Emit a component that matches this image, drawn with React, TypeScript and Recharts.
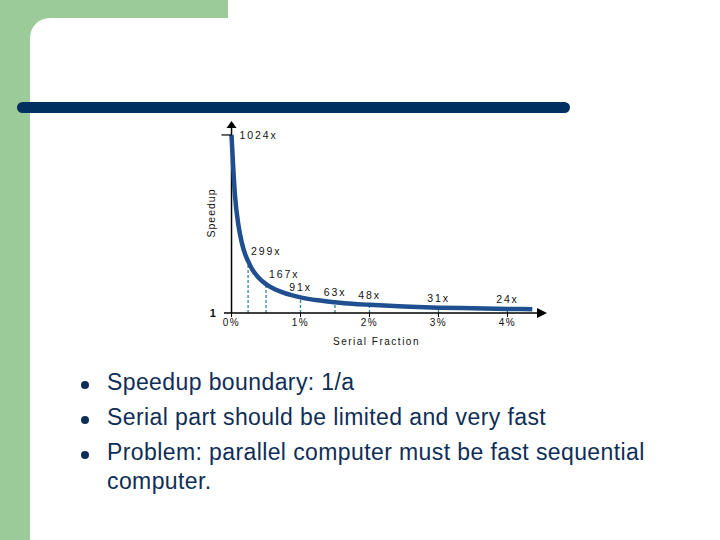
import React from 'react';
import { LineChart, Line, XAxis, YAxis, ReferenceLine, ReferenceDot } from 'recharts';

// Serial fraction (%) and speedup
const fractionPct = [0, 0.05, 0.1, 0.15, 0.2, 0.24, 0.3, 0.4, 0.5, 0.6, 0.75, 1, 1.25, 1.5, 1.75, 2, 2.5, 3, 3.5, 4, 4.36];
const speedup = [1024, 677, 506, 404, 336, 299, 252, 201, 167, 143, 118, 91, 74, 63, 54, 48, 38.5, 31.5, 28, 24.5, 22.3];

// Marked points with dashed drop lines
const markFractions = [0.24, 0.5, 1, 1.5, 2, 3, 4];
const markSpeedups = [299, 167, 91, 63, 48, 31.5, 24.5];
const markLabels = ['299x', '167x', '91x', '63x', '48x', '31x', '24x'];

const xTicks = [0, 1, 2, 3, 4];
const xTickLabels = ['0%', '1%', '2%', '3%', '4%'];
const yTicks = [1, 1024];
const yTickLabels = ['1', '1024x'];

const bullets = [
  'Speedup boundary: 1/a',
  'Serial part should be limited and very fast',
  'Problem: parallel computer must be fast sequential computer.',
];

const data = fractionPct.map((f, i) => ({ f, s: speedup[i] }));

const X_DOMAIN: [number, number] = [-0.109, 4.428];
const Y_DOMAIN: [number, number] = [1, 1064];

const GREEN = '#9ccb9a';
const NAVY = '#00305f';
const TEXT = '#0f2e57';
const CHART_FONT = '"Liberation Sans", Arial, sans-serif';

const smallText = { fontFamily: CHART_FONT, fontSize: 10, letterSpacing: 1.5, fill: '#111' };
const markText = { fontFamily: CHART_FONT, fontSize: 10.5, letterSpacing: 1.9, fill: '#111' };

export default function App() {
  return (
    <div style={{ position: 'relative', width: 720, height: 540, overflow: 'hidden', background: '#fff' }}>
      <style>{'body{margin:0}'}</style>
      {/* slide decorations */}
      <div style={{ position: 'absolute', left: 0, top: 0, width: 228, height: 60, background: GREEN }} />
      <div style={{ position: 'absolute', left: 0, top: 0, width: 30, height: 540, background: GREEN }} />
      <div style={{ position: 'absolute', left: 30, top: 18, width: 690, height: 522, background: '#fff', borderTopLeftRadius: 20 }} />
      <div style={{ position: 'absolute', left: 17, top: 102, width: 553, height: 11, background: NAVY, borderRadius: 6 }} />

      {/* chart */}
      <div style={{ position: 'absolute', left: 170, top: 110 }}>
        <LineChart width={400} height={250} data={data} margin={{ top: 18, right: 33, bottom: 17, left: 54 }}>
          <XAxis
            dataKey="f"
            type="number"
            domain={X_DOMAIN}
            allowDataOverflow
            ticks={xTicks}
            tickFormatter={(v: number) => xTickLabels[xTicks.indexOf(v)] ?? ''}
            axisLine={{ stroke: '#000', strokeWidth: 1.5 }}
            tickLine={{ stroke: '#000' }}
            tickSize={4}
            tick={smallText}
            height={30}
            label={{ value: 'Serial Fraction', position: 'insideBottom', offset: -2, dx: -4, style: smallText }}
          />
          <YAxis hide type="number" domain={Y_DOMAIN} allowDataOverflow />
          <ReferenceLine x={0} stroke="#000" strokeWidth={1.5} />
          {markFractions.map((f, i) => (
            <ReferenceLine
              key={'d' + i}
              segment={[{ x: f, y: 1 }, { x: f, y: markSpeedups[i] }]}
              stroke="#2e8796"
              strokeWidth={1.3}
              strokeDasharray="3 2"
            />
          ))}
          <Line
            type="monotone"
            dataKey="s"
            stroke="#1f4f8e"
            strokeWidth={4.5}
            dot={false}
            isAnimationActive={false}
          />
          {markFractions.map((f, i) => (
            <ReferenceDot
              key={'l' + i}
              x={f}
              y={markSpeedups[i]}
              ifOverflow="visible"
              shape={(p: any) => (
                <text
                  x={i < 2 ? p.cx + 3 : p.cx}
                  y={p.cy - 6}
                  textAnchor={i < 2 ? 'start' : 'middle'}
                  style={markText}
                >
                  {markLabels[i]}
                </text>
              )}
            />
          ))}
          {yTicks.map((v, i) => (
            <ReferenceDot
              key={'y' + i}
              x={0}
              y={v}
              ifOverflow="visible"
              shape={(p: any) =>
                i === 0 ? (
                  <text x={p.cx - 18} y={p.cy + 4} textAnchor="middle" style={{ ...smallText, fontSize: 11, fontWeight: 'bold' }}>
                    {yTickLabels[i]}
                  </text>
                ) : (
                  <g>
                    <line x1={p.cx - 10} x2={p.cx} y1={p.cy} y2={p.cy} stroke="#000" strokeWidth={1.2} />
                    <text x={p.cx + 8} y={p.cy + 4} textAnchor="start" style={markText}>
                      {yTickLabels[i]}
                    </text>
                  </g>
                )
              }
            />
          ))}
          {/* axis arrowheads */}
          <ReferenceDot
            x={X_DOMAIN[1]}
            y={Y_DOMAIN[0]}
            ifOverflow="visible"
            shape={(p: any) => (
              <polygon points={`${p.cx},${p.cy - 5} ${p.cx + 10},${p.cy} ${p.cx},${p.cy + 5}`} fill="#000" />
            )}
          />
          <ReferenceDot
            x={0}
            y={Y_DOMAIN[1]}
            ifOverflow="visible"
            shape={(p: any) => (
              <polygon points={`${p.cx - 5},${p.cy} ${p.cx},${p.cy - 7} ${p.cx + 5},${p.cy}`} fill="#000" />
            )}
          />
        </LineChart>
      </div>
      <div
        style={{
          position: 'absolute',
          left: 211,
          top: 213,
          transform: 'translate(-50%, -50%) rotate(-90deg)',
          fontFamily: CHART_FONT,
          fontSize: 10.5,
          letterSpacing: 1,
          color: '#111',
          whiteSpace: 'nowrap',
        }}
      >
        Speedup
      </div>

      {/* bullet list */}
      <div
        style={{
          position: 'absolute',
          left: 107,
          top: 368,
          width: 575,
          fontFamily: '"Liberation Sans", Arial, sans-serif',
          fontSize: 23,
          letterSpacing: 0.4,
          lineHeight: '29px',
          color: TEXT,
        }}
      >
        {bullets.map((b, i) => (
          <div key={i} style={{ position: 'relative', marginBottom: 6 }}>
            <span
              style={{
                position: 'absolute',
                left: -26,
                top: 13,
                width: 8,
                height: 8,
                borderRadius: 4,
                background: TEXT,
              }}
            />
            {b}
          </div>
        ))}
      </div>
    </div>
  );
}
